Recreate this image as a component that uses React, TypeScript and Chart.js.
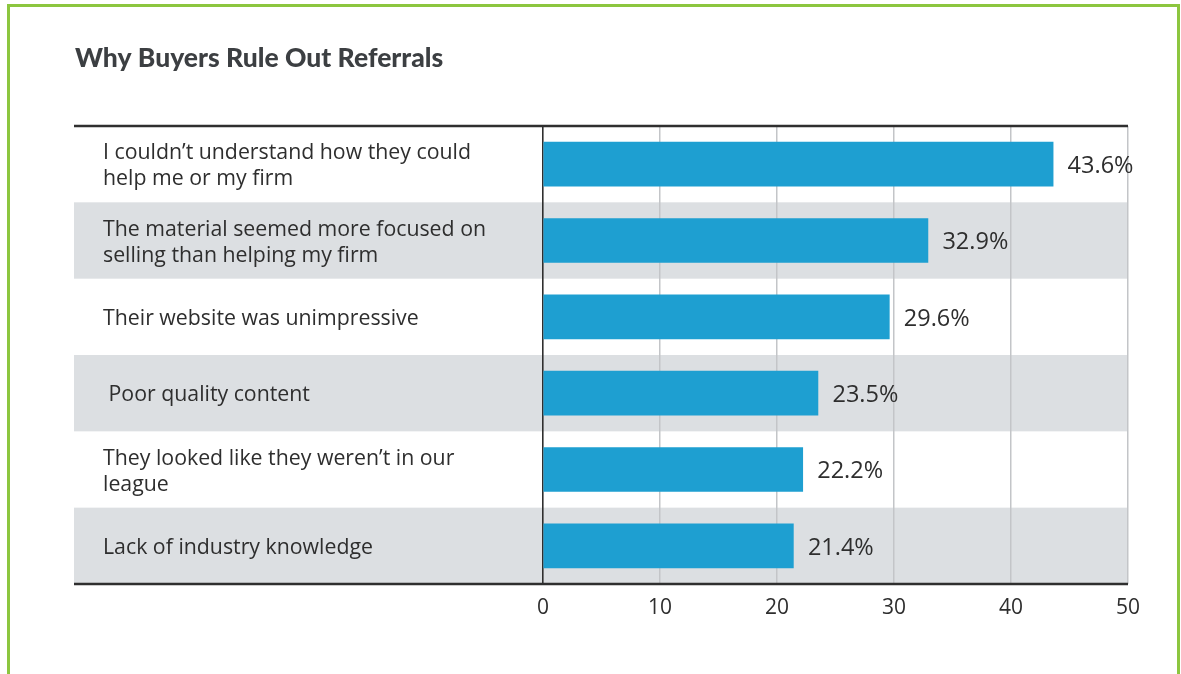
import React, { useEffect, useRef } from "react";
import { Chart, registerables } from "chart.js";

Chart.register(...registerables);

const chartTitle = "Why Buyers Rule Out Referrals";
const categories: (string | string[])[] = [
  ["I couldn’t understand how they could", "help me or my firm"],
  ["The material seemed more focused on", "selling than helping my firm"],
  "Their website was unimpressive",
  " Poor quality content",
  ["They looked like they weren’t in our", "league"],
  "Lack of industry knowledge",
];
const values = [43.6, 32.9, 29.6, 23.5, 22.2, 21.4];
const xTickValues = [0, 10, 20, 30, 40, 50];

const FONT = "'Open Sans', Lato, sans-serif";
const TITLE_FONT = "Lato, 'Open Sans', sans-serif";
const TEXT = "#2e2e2e";
const BAR = "#1e9fd1";
const BAND = "#dcdfe2";
const GRID = "#c3c5c8";
const RULE = "#2f2f2f";
const GREEN = "#8cc63f";
const RULE_LEFT = 74;

const decorPlugin = {
  id: "decor",
  beforeDraw(chart: any) {
    const { ctx, chartArea } = chart;
    const y = chart.scales.y;
    ctx.save();
    ctx.fillStyle = "#ffffff";
    ctx.fillRect(0, 0, chart.width, chart.height);
    const step = Math.abs(y.getPixelForValue(1) - y.getPixelForValue(0));
    categories.forEach((_, i) => {
      if (i % 2 === 1) {
        const c = y.getPixelForValue(i);
        ctx.fillStyle = BAND;
        ctx.fillRect(RULE_LEFT, c - step / 2, chartArea.right - RULE_LEFT, step);
      }
    });
    ctx.font = `900 26.5px ${TITLE_FONT}`;
    ctx.fillStyle = "#3c3f42";
    ctx.textBaseline = "alphabetic";
    ctx.textAlign = "left";
    ctx.fillText(chartTitle, 75, 67);
    ctx.restore();
  },
  afterDatasetsDraw(chart: any) {
    const { ctx } = chart;
    const meta = chart.getDatasetMeta(0);
    ctx.save();
    ctx.font = `23.5px ${FONT}`;
    ctx.fillStyle = TEXT;
    ctx.textBaseline = "middle";
    ctx.textAlign = "left";
    meta.data.forEach((bar: any, i: number) => {
      ctx.fillText(values[i].toFixed(1) + "%", bar.x + 14.5, bar.y + 2);
    });
    ctx.restore();
  },
  afterDraw(chart: any) {
    const { ctx, chartArea } = chart;
    ctx.save();
    ctx.strokeStyle = RULE;
    ctx.lineWidth = 2.5;
    ctx.beginPath();
    ctx.moveTo(RULE_LEFT, chartArea.top);
    ctx.lineTo(chartArea.right, chartArea.top);
    ctx.moveTo(RULE_LEFT, chartArea.bottom);
    ctx.lineTo(chartArea.right, chartArea.bottom);
    ctx.stroke();
    ctx.strokeStyle = GREEN;
    ctx.lineWidth = 3;
    ctx.beginPath();
    ctx.moveTo(8.5, chart.height);
    ctx.lineTo(8.5, 5.5);
    ctx.lineTo(1178.5, 5.5);
    ctx.lineTo(1178.5, chart.height);
    ctx.stroke();
    ctx.restore();
  },
};

export default function App() {
  const ref = useRef<HTMLCanvasElement | null>(null);
  useEffect(() => {
    if (!ref.current) return;
    const chart = new Chart(ref.current, {
      type: "bar",
      data: {
        labels: categories,
        datasets: [
          {
            data: values,
            backgroundColor: BAR,
            borderWidth: 0,
            barThickness: 44,
          },
        ],
      },
      options: {
        indexAxis: "y",
        animation: false,
        responsive: false,
        maintainAspectRatio: false,
        layout: { padding: { left: 103, right: 53, top: 126, bottom: 48 } },
        plugins: { legend: { display: false }, tooltip: { enabled: false }, title: { display: false } },
        scales: {
          x: {
            type: "linear",
            position: "bottom",
            min: 0,
            max: 50,
            afterBuildTicks: (scale: any) => {
              scale.ticks = xTickValues.map((v) => ({ value: v }));
            },
            ticks: {
              font: { family: FONT, size: 21 },
              color: TEXT,
              padding: 11,
            },
            grid: {
              drawTicks: false,
              color: (c: any) => (c.tick && c.tick.value === 0 ? RULE : GRID),
              lineWidth: (c: any) => (c.tick && c.tick.value === 0 ? 1.6 : 1.5),
            },
            border: { display: false },
            afterFit: (scale: any) => {
              scale.height = 42;
            },
          },
          y: {
            type: "category",
            ticks: {
              crossAlign: "far",
              font: { family: FONT, size: 21.3, lineHeight: 1.22 },
              color: TEXT,
              autoSkip: false,
              labelOffset: 2,
            },
            grid: { display: false, drawTicks: false },
            border: { display: false },
            afterFit: (scale: any) => {
              scale.width = 440;
            },
          },
        },
      },
      plugins: [decorPlugin],
    });
    return () => chart.destroy();
  }, []);
  return (
    <div style={{ position: "fixed", left: 0, top: 0, width: 1181, height: 674, background: "#fff" }}>
      <canvas ref={ref} width={1181} height={674} style={{ display: "block", width: 1181, height: 674 }} />
    </div>
  );
}
